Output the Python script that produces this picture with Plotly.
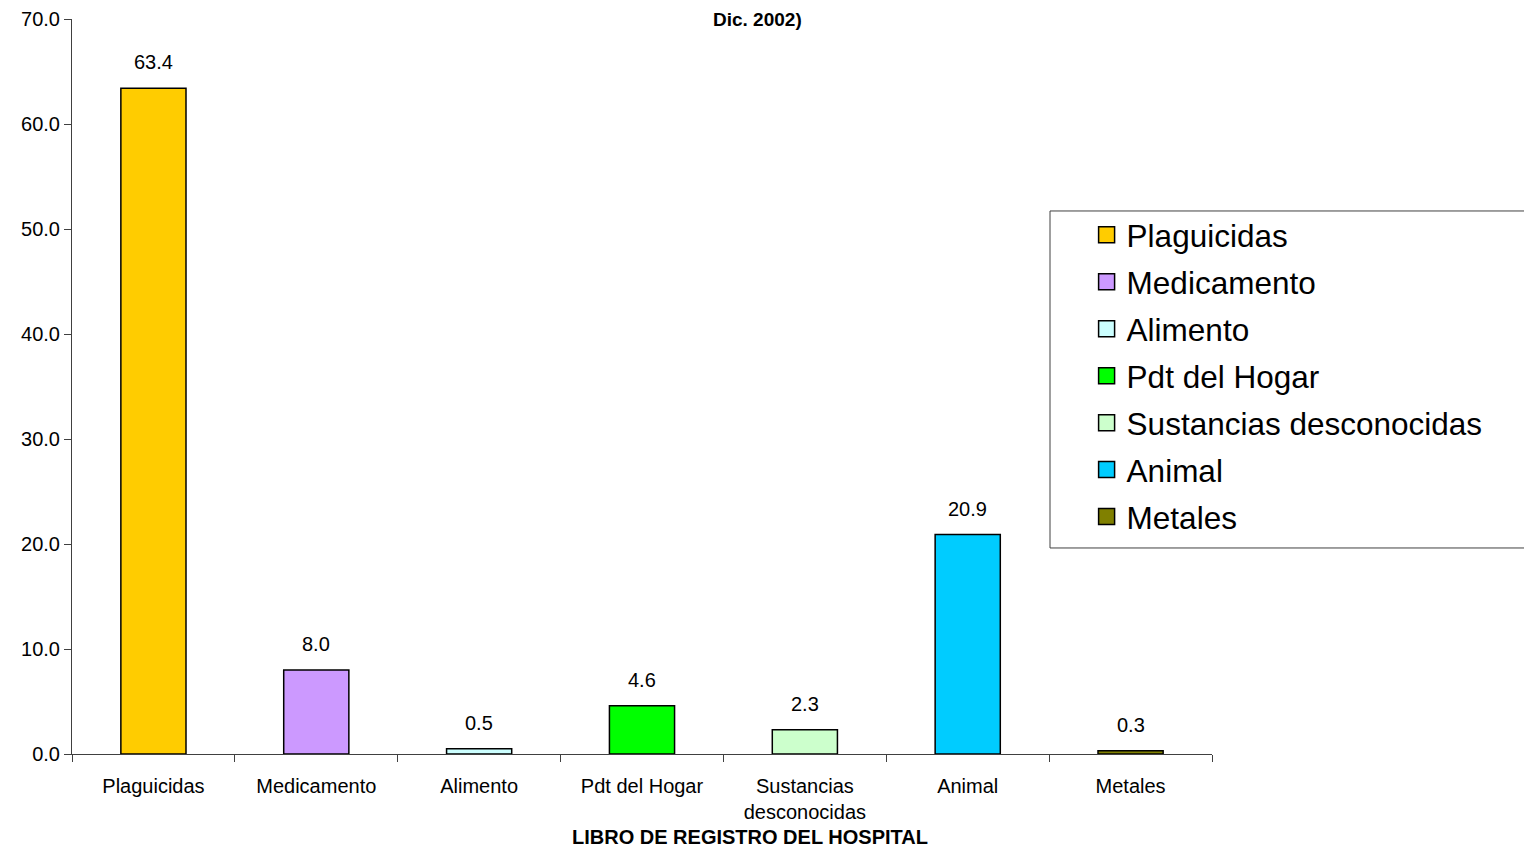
import plotly.graph_objects as go

# Categorías de agentes tóxicos y sus porcentajes
categorias = ["Plaguicidas", "Medicamento", "Alimento", "Pdt del Hogar",
              "Sustancias desconocidas", "Animal", "Metales"]
etiquetas_eje = ["Plaguicidas", "Medicamento", "Alimento", "Pdt del Hogar",
                 "Sustancias<br>desconocidas", "Animal", "Metales"]
porcentajes = [63.4, 8.0, 0.5, 4.6, 2.3, 20.9, 0.3]
colores = ["#FFCC00", "#CC99FF", "#CCFFFF", "#00FF00", "#CCFFCC", "#00CCFF", "#808000"]

FUENTE = "Liberation Sans, Arial, sans-serif"

fig = go.Figure()
for nombre, eje, valor, color in zip(categorias, etiquetas_eje, porcentajes, colores):
    fig.add_trace(go.Bar(
        x=[eje], y=[valor], name=nombre, showlegend=False,
        marker=dict(color=color, line=dict(color="#000000", width=1.5)),
        width=0.4,
    ))
    fig.add_annotation(
        x=eje, y=valor, text=f"{valor:.1f}", showarrow=False,
        yanchor="bottom", yshift=13,
        font=dict(family=FUENTE, size=20, color="#000000"),
    )
    # entrada de leyenda con cuadro grande
    fig.add_trace(go.Scatter(
        x=[None], y=[None], mode="markers", name=nombre, legendgroup=nombre,
        marker=dict(symbol="square", size=18, color=color,
                    line=dict(color="#000000", width=1.5)),
    ))

# línea visible del título
fig.add_annotation(
    x=0.601, xref="paper", y=1.0, yref="paper", yanchor="middle",
    text="<b>Dic. 2002)</b>", showarrow=False,
    font=dict(family=FUENTE, size=19, color="#000000"),
)
# título del eje X
fig.add_annotation(
    x=0.595, xref="paper", y=-0.113, yref="paper", yanchor="middle",
    text="<b>LIBRO DE REGISTRO DEL HOSPITAL</b>", showarrow=False,
    font=dict(family=FUENTE, size=20, color="#000000"),
)
# marco de la leyenda
fig.add_shape(
    type="rect", xref="paper", yref="paper",
    x0=0.8579, x1=1.35, y0=0.2803, y1=0.7388,
    line=dict(color="#404040", width=1), fillcolor="rgba(0,0,0,0)",
)

fig.update_layout(
    width=1524, height=851,
    margin=dict(l=72, r=312, t=19, b=97),
    paper_bgcolor="#FFFFFF", plot_bgcolor="#FFFFFF",
    barmode="overlay",
    font=dict(family=FUENTE, size=20, color="#000000"),
    showlegend=True,
    legend=dict(
        x=0.890, y=0.743, xanchor="left", yanchor="top",
        borderwidth=0, bgcolor="rgba(0,0,0,0)",
        font=dict(family=FUENTE, size=31.5, color="#000000"),
        itemsizing="trace", tracegroupgap=3,
    ),
    xaxis=dict(
        categoryorder="array", categoryarray=etiquetas_eje,
        tickson="boundaries", ticks="outside", ticklen=7, tickcolor="#404040",
        ticklabelstandoff=14,
        showline=True, linecolor="#404040", linewidth=1,
        showgrid=False, zeroline=False, automargin=False,
        tickfont=dict(family=FUENTE, size=20),
    ),
    yaxis=dict(
        range=[0, 70], dtick=10, tickformat=".1f",
        ticks="outside", ticklen=7, tickcolor="#404040",
        showline=True, linecolor="#404040", linewidth=1,
        showgrid=False, zeroline=False, automargin=False,
        tickfont=dict(family=FUENTE, size=20),
    ),
)

fig.write_html("out.html")
